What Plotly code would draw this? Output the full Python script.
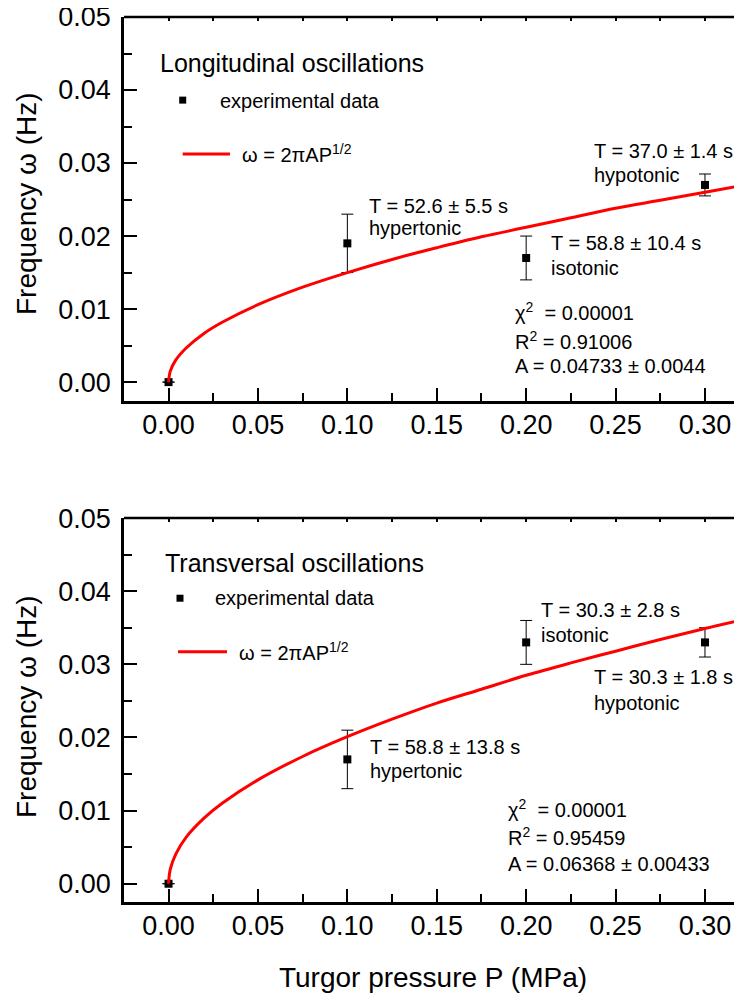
import plotly.graph_objects as go
from plotly.subplots import make_subplots

# ---- data ----
P_points = [0.0, 0.10, 0.20, 0.30]
long_omega = [0.0, 0.019, 0.017, 0.027]
long_err = [0.0, 0.004, 0.003, 0.0015]
trans_omega = [0.0, 0.017, 0.033, 0.033]
trans_err = [0.0, 0.004, 0.003, 0.002]

P_fit = [0, 0.001, 0.004, 0.01, 0.02, 0.03, 0.05, 0.075, 0.10, 0.125, 0.15,
         0.175, 0.20, 0.225, 0.25, 0.275, 0.30, 0.325]
long_fit = [0, 0.0015, 0.0030, 0.0047, 0.0067, 0.0082, 0.0106, 0.0130, 0.0150,
            0.0168, 0.0184, 0.0199, 0.0212, 0.0225, 0.0238, 0.0249, 0.0260, 0.0271]
trans_fit = [0, 0.0020, 0.0040, 0.0064, 0.0090, 0.0110, 0.0142, 0.0174, 0.0201,
             0.0225, 0.0247, 0.0266, 0.0285, 0.0302, 0.0318, 0.0334, 0.0349, 0.0363]

x_ticks = [0.0, 0.05, 0.10, 0.15, 0.20, 0.25, 0.30]
y_ticks = [0.0, 0.01, 0.02, 0.03, 0.04, 0.05]

FONT = "Arial, Liberation Sans, sans-serif"

fig = make_subplots(rows=2, cols=1, vertical_spacing=0.132)

for row, yv, ye, yfit in [(1, long_omega, long_err, long_fit),
                          (2, trans_omega, trans_err, trans_fit)]:
    fig.add_trace(go.Scatter(
        x=P_points, y=yv, mode="markers",
        marker=dict(symbol="square", size=8, color="black"),
        error_y=dict(type="data", array=ye, color="black", thickness=1, width=6),
        showlegend=False), row=row, col=1)
    fig.add_trace(go.Scatter(
        x=P_fit, y=yfit, mode="lines", line=dict(color="#ff0000", width=3, shape="spline"),
        showlegend=False), row=row, col=1)

axis_common = dict(showgrid=False, zeroline=False, showline=True, linecolor="black",
                   linewidth=2.5, ticks="inside", tickwidth=2, tickcolor="black",
                   ticklen=13, tickfont=dict(family=FONT, size=27, color="black"),
                   tickformat=".2f", automargin=False, ticklabeloverflow="allow")

xr = [-0.0249, 0.3207]
for i, (xa, ya, yr) in enumerate([("xaxis", "yaxis", [-0.0026, 0.05]),
                                  ("xaxis2", "yaxis2", [-0.0025, 0.05])]):
    fig.update_layout({
        xa: dict(axis_common, range=xr, tickvals=x_ticks, ticklabelstandoff=-2,
                 minor=dict(ticks="inside", ticklen=8, tickwidth=2, dtick=0.025,
                            tick0=0, tickcolor="black")),
        ya: dict(axis_common, range=yr, tickvals=y_ticks, ticklabelstandoff=5,
                 minor=dict(ticks="inside", ticklen=8, tickwidth=2, dtick=0.005,
                            tick0=0, tickcolor="black")),
    })

fig.update_layout(
    yaxis=dict(domain=[0.5660, 1.0]),
    yaxis2=dict(domain=[0.0, 0.4338]),
    xaxis2=dict(title=dict(text="Turgor pressure P (MPa)", standoff=28,
                           font=dict(family=FONT, size=28, color="black"))),
    # short ticks along the top frame line
    xaxis3=dict(overlaying="x", anchor="y", side="top", range=xr, showline=False,
                ticks="inside", ticklen=4,
                tickwidth=2, tickcolor="black", dtick=0.025, tick0=0, automargin=False,
                showticklabels=False, showgrid=False, zeroline=False),
    xaxis4=dict(overlaying="x2", anchor="y2", side="top", range=xr, showline=False,
                ticks="inside", ticklen=4,
                tickwidth=2, tickcolor="black", dtick=0.025, tick0=0, automargin=False,
                showticklabels=False, showgrid=False, zeroline=False),
)
# dummy traces so overlay axes are drawn
fig.add_trace(go.Scatter(x=[None], y=[None], xaxis="x3", yaxis="y", showlegend=False))
fig.add_trace(go.Scatter(x=[None], y=[None], xaxis="x4", yaxis="y2", showlegend=False))

ann = []
def txt(s, xd, yd, ax, size=20):
    ann.append(dict(text=s, x=xd, y=yd, xref=f"x{ax} domain", yref=f"y{ax} domain",
                    xanchor="left", yanchor="middle", showarrow=False,
                    font=dict(family=FONT, size=size, color="black")))

# y-axis titles (one per panel)
for yc, ys in [(0.783, 5), (0.2169, 3)]:
    ann.append(dict(text="Frequency ω (Hz)", x=0, y=yc, xref="paper", yref="paper",
                    xanchor="center", yanchor="middle", xshift=-98, yshift=ys,
                    textangle=-90, showarrow=False,
                    font=dict(family=FONT, size=28, color="black")))

fit_label = "ω = 2πAP<sup>1/2</sup>"
# top panel
txt("Longitudinal oscillations", 0.055, 0.8805, "", 25)
txt("experimental data", 0.152, 0.7818, "")
txt(fit_label, 0.1877, 0.6434, "")
txt("T = 52.6 ± 5.5 s", 0.3932, 0.5091, "")
txt("hypertonic", 0.3932, 0.4494, "")
txt("T = 37.0 ± 1.4 s", 0.7568, 0.652, "")
txt("hypotonic", 0.7568, 0.5896, "")
txt("T = 58.8 ± 10.4 s", 0.6877, 0.4104, "")
txt("isotonic", 0.6877, 0.3455, "")
txt("χ<sup>2</sup>  = 0.00001", 0.630, 0.232, "")
txt("R<sup>2</sup> = 0.91006", 0.630, 0.158, "")
txt("A = 0.04733 ± 0.0044", 0.630, 0.0917, "")
# bottom panel
txt("Transversal oscillations", 0.0631, 0.8834, "2", 25)
txt("experimental data", 0.144, 0.7913, "2")
txt(fit_label, 0.1828, 0.652, "2")
txt("T = 30.3 ± 2.8 s", 0.672, 0.7608, "2")
txt("isotonic", 0.672, 0.6956, "2")
txt("T = 30.3 ± 1.8 s", 0.7568, 0.5853, "2")
txt("hypotonic", 0.7568, 0.519, "2")
txt("T = 58.8 ± 13.8 s", 0.3948, 0.4043, "2")
txt("hypertonic", 0.3948, 0.3417, "2")
txt("χ<sup>2</sup>  = 0.00001", 0.618, 0.2436, "2")
txt("R<sup>2</sup> = 0.95459", 0.618, 0.1695, "2")
txt("A = 0.06368 ± 0.00433", 0.618, 0.1002, "2")

shapes = []
for ax, sx, sy, lx0, lx1, ly in [("", 0.095, 0.7836, 0.095, 0.1715, 0.6434),
                                 ("2", 0.0906, 0.7913, 0.0874, 0.1667, 0.652)]:
    shapes.append(dict(type="rect", xref=f"x{ax} domain", yref=f"y{ax} domain",
                       xsizemode="pixel", ysizemode="pixel", xanchor=sx, yanchor=sy,
                       x0=-3.5, x1=3.5, y0=-3.5, y1=3.5,
                       fillcolor="black", line=dict(width=0)))
    shapes.append(dict(type="line", xref=f"x{ax} domain", yref=f"y{ax} domain",
                       x0=lx0, x1=lx1, y0=ly, y1=ly,
                       line=dict(color="#ff0000", width=3)))
    # top frame line of the panel
    shapes.append(dict(type="line", xref=f"x{ax} domain", yref=f"y{ax} domain",
                       x0=0, x1=1, y0=1, y1=1, layer="above",
                       line=dict(color="black", width=2.5)))

# the page adds an 8 px body margin, so the figure is sized to fit the window
fig.update_layout(
    annotations=ann, shapes=shapes,
    width=734, height=985,
    margin=dict(l=116, r=0, t=9, b=91),
    paper_bgcolor="white", plot_bgcolor="white",
    font=dict(family=FONT, color="black"),
)

fig.write_html("out.html")
